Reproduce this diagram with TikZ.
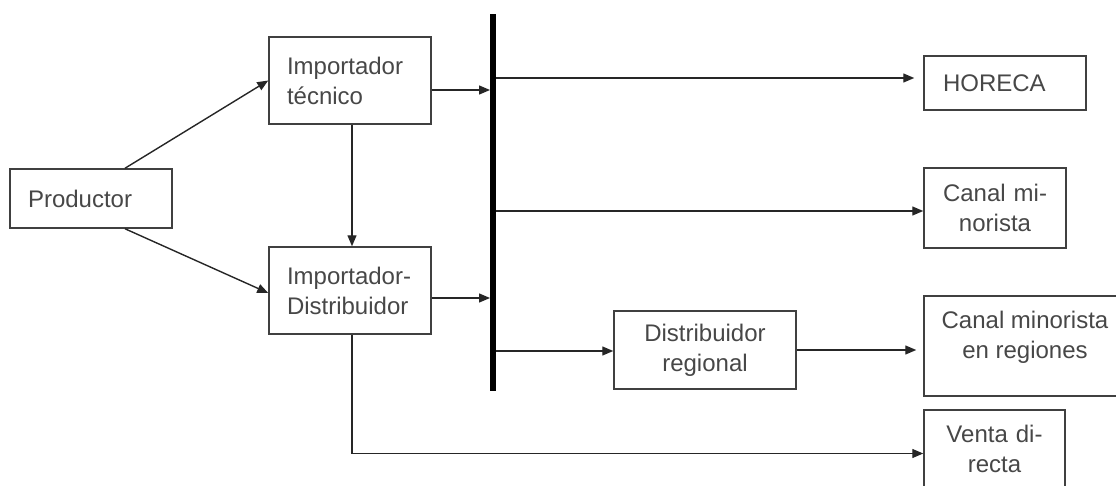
\documentclass[tikz,border=0pt]{standalone}
\usepackage{fontspec}
\setmainfont{Liberation Sans}
\usetikzlibrary{arrows.meta,calc}
\begin{document}
\begin{tikzpicture}[x=1pt,y=-1pt,
  every node/.style={font=\fontsize{24}{30}\selectfont, text=black!72},
  box/.style={draw=black!75, line width=1.5pt, rectangle, inner ysep=0pt, minimum height=#1},
  lbox/.style={box=#1, align=left},
  cbox/.style={box=#1, align=center},
  conn/.style={draw=black!85, line width=1.4pt},
  arr/.style={conn, -{Triangle[length=11pt,width=9pt]}}]
\useasboundingbox (0,0) rectangle (1116,485);
% nodes
\node[lbox=59pt, text width=126pt, inner xsep=18pt] (prod) at (91,198.5) {Productor};
\node[lbox=87pt, text width=126pt, inner xsep=18pt] (it) at (350,80.5) {Importador\\t\'ecnico};
\node[lbox=87pt, text width=126pt, inner xsep=18pt] (id) at (350,290.5) {Importador-\\Distribuidor};
\node[lbox=54pt, text width=124pt, inner xsep=19pt] (horeca) at (1005,83) {HORECA};
\node[cbox=80pt, text width=130pt, inner xsep=6pt] (canal) at (995,208) {Canal mi-\\norista};
\node[cbox=78pt, text width=170pt, inner xsep=6pt] (dr) at (705,350) {Distribuidor\\regional};
\node[box=100pt, minimum width=202pt] (cmr) at (1025,346) {};
\node[align=center, inner sep=0pt] (cmrtext) at (1025,337) {Canal minorista\\en regiones};
\node[cbox=78pt, text width=129pt, inner xsep=6pt] (venta) at (994.5,449) {Venta di-\\recta};
% bar coordinates
\coordinate (bartop) at (493,14);
\coordinate (barbot) at (493,391);
% connectors
\draw[arr] ([xshift=34pt]prod.north) -- (it.west);
\draw[arr] ([xshift=34pt]prod.south) -- ([yshift=-2.5pt]id.west);
\draw[arr] ([xshift=2pt]it.south) -- ([xshift=2pt]id.north);
\draw[arr, shorten >=3pt] ([yshift=-9.5pt]it.east) -- ([yshift=-9.5pt]it.east -| bartop);
\draw[arr, shorten >=3pt] ([yshift=-7.5pt]id.east) -- ([yshift=-7.5pt]id.east -| bartop);
\draw[arr, shorten >=9pt] ([yshift=5pt]horeca.west -| bartop) -- ([yshift=5pt]horeca.west);
\draw[arr] ([yshift=-3pt]canal.west -| bartop) -- ([yshift=-3pt]canal.west);
\draw[arr] ([yshift=-1pt]dr.west -| bartop) -- ([yshift=-1pt]dr.west);
\draw[arr, shorten >=7pt] (dr.east) -- (dr.east -| cmr.west);
\draw[arr] ([xshift=2pt]id.south) |- ([yshift=-4.5pt]venta.west);
% bar
\draw[line width=6pt, black] (bartop) -- (barbot);
\end{tikzpicture}
\end{document}
